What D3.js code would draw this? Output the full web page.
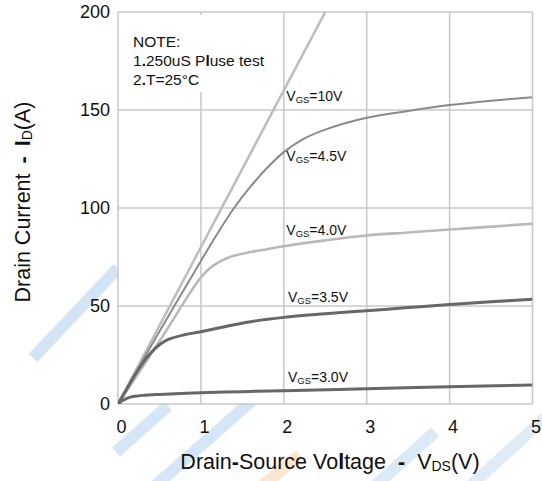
<!DOCTYPE html>
<html><head><meta charset="utf-8">
<script src="https://cdn.jsdelivr.net/npm/d3@7"></script>
<style>body{margin:0;background:#fff}svg{display:block}text{font-family:"Liberation Sans",Arial,sans-serif}</style>
</head><body>
<svg id="c" width="542" height="481"></svg>
<script>
const xTicks = [0,1,2,3,4,5];
const yTicks = [0,50,100,150,200];
const seriesNames = ["10V","4.5V","4.0V","3.5V","3.0V"];
const v10x = [0,2.5];
const v10y = [0,200];
const v45x = [0,0.5,1.0,1.2,1.4,1.6,1.8,2.0,2.25,2.5,3.0,3.5,4.0,4.5,5.0];
const v45y = [0,37,73,87,100,111,120.5,128.5,135.5,140,146,149.5,152.5,154.7,156.5];
const v40x = [0,0.5,0.98,1.1,1.2,1.35,1.6,1.8,2.0,2.5,3.0,3.5,4.0,4.5,5.0];
const v40y = [0,32,63.5,69,72,75,77.5,79,80.5,83.5,86,87.5,89,90.5,92];
const v35x = [0,0.1,0.2,0.3,0.4,0.5,0.6,0.8,1.0,1.3,1.6,2.0,2.5,3.0,3.5,4.0,4.5,5.0];
const v35y = [0,7.2,14.5,21,26.3,30.2,32.8,35.3,36.9,39.5,42,44.2,46,47.6,49.2,50.8,52.2,53.4];
const v30x = [0,0.05,0.1,0.15,0.2,0.3,0.5,1.0,1.5,2.0,3.0,4.0,5.0];
const v30y = [0,1.6,2.8,3.5,3.9,4.4,4.9,5.8,6.3,6.8,7.8,8.8,9.7];
const labels = [
  {name:"10V", v:2.03, i:154.6},
  {name:"4.5V", v:2.03, i:124.2},
  {name:"4.0V", v:2.03, i:86.2},
  {name:"3.5V", v:2.05, i:52.2},
  {name:"3.0V", v:2.05, i:11.4}
];

const svg = d3.select("#c");
const x = d3.scaleLinear().domain([0,5]).range([118,532.5]);
const y = d3.scaleLinear().domain([0,200]).range([404,12]);

// watermark
const wm = svg.append("g").attr("stroke-linecap","butt").attr("fill","none");
[[33,358,118,268,"#d3e5f5"],[116,452,168,406,"#d5e7f6"],[155,486,255,398,"#d5e7f6"],[375,486,435,432,"#dbeaf7"],[470,486,545,418,"#dfecf8"]].forEach(d=>{
  wm.append("line").attr("x1",d[0]).attr("y1",d[1]).attr("x2",d[2]).attr("y2",d[3]).attr("stroke",d[4]).attr("stroke-width",12);
});
wm.append("line").attr("x1",262).attr("y1",486).attr("x2",300).attr("y2",455).attr("stroke","#fce6cf").attr("stroke-width",12);

// plot background
svg.append("rect").attr("x",x(0)).attr("y",y(200)).attr("width",x(5)-x(0)).attr("height",y(0)-y(200)).attr("fill","#fff").attr("opacity",0.9);

// grid
const g = svg.append("g").attr("stroke","#c8c8c8").attr("stroke-width",1.5);
xTicks.forEach(t=>g.append("line").attr("x1",x(t)).attr("x2",x(t)).attr("y1",y(0)).attr("y2",y(200)));
yTicks.forEach(t=>g.append("line").attr("x1",x(0)).attr("x2",x(5)).attr("y1",y(t)).attr("y2",y(t)));

// note box
svg.append("rect").attr("x",125).attr("y",15).attr("width",142).attr("height",77).attr("fill","#fff");
const note = svg.append("g").attr("font-size",15.5).attr("fill","#111");
note.append("text").attr("x",133).attr("y",47).text("NOTE:");
const n1 = note.append("text").attr("x",133).attr("y",66);
n1.append("tspan").text("1");n1.append("tspan").attr("font-weight","bold").text(".");
n1.append("tspan").text("250uS P");n1.append("tspan").attr("font-weight","bold").text("l");n1.append("tspan").text("use test");
const n2 = note.append("text").attr("x",133).attr("y",85);
n2.append("tspan").text("2");n2.append("tspan").attr("font-weight","bold").text(".");n2.append("tspan").text("T=25°C");

// curves
const line = d3.line().x(d=>x(d[0])).y(d=>y(d[1])).curve(d3.curveCatmullRom.alpha(0.5));
svg.append("clipPath").attr("id","pc").append("rect").attr("x",x(0)).attr("y",y(200)).attr("width",x(5)-x(0)).attr("height",y(0)-y(200));
const curves = [
  [v10x,v10y,"#bdbdbd",2.5],
  [v40x,v40y,"#b9b9b9",2.6],
  [v45x,v45y,"#8a8a8a",2],
  [v35x,v35y,"#676767",3],
  [v30x,v30y,"#676767",3]
];
const cg = svg.append("g").attr("clip-path","url(#pc)").attr("fill","none");
curves.forEach(c=>{
  cg.append("path").attr("d",line(c[0].map((v,i)=>[v,c[1][i]]))).attr("stroke",c[2]).attr("stroke-width",c[3]).attr("stroke-linejoin","round");
});

// labels
labels.forEach(l=>{
  const t = svg.append("text").attr("x",x(l.v)).attr("y",y(l.i)).attr("font-size",14).attr("fill","#111");
  t.append("tspan").text("V");
  t.append("tspan").attr("font-size",9.5).attr("dy",2).text("GS");
  t.append("tspan").attr("dy",-2).text("="+l.name);
});

// axes
const xa = svg.append("g").attr("transform",`translate(0,${y(0)})`).call(d3.axisBottom(x).tickValues(xTicks).tickSize(0).tickPadding(16).tickFormat(d3.format("d")));
xa.select(".domain").remove();
xa.selectAll("text").attr("font-size",18).attr("fill","#111").attr("font-family","Liberation Sans, Arial, sans-serif").attr("dx",3);
const ya = svg.append("g").attr("transform",`translate(${x(0)},0)`).call(d3.axisLeft(y).tickValues(yTicks).tickSize(0).tickPadding(8).tickFormat(d3.format("d")));
ya.select(".domain").remove();
ya.selectAll("text").attr("font-size",18).attr("fill","#111").attr("font-family","Liberation Sans, Arial, sans-serif");

// axis titles
const xt = svg.append("text").attr("x",330).attr("y",469).attr("text-anchor","middle").attr("font-size",21.5).attr("fill","#111");
xt.append("tspan").text("Drain");xt.append("tspan").attr("font-weight","bold").text("-");xt.append("tspan").text("Source Vo");
xt.append("tspan").attr("font-weight","bold").text("l");xt.append("tspan").text("tage");
xt.append("tspan").attr("font-weight","bold").attr("dx",12).text("-");
xt.append("tspan").attr("dx",12).text("V");xt.append("tspan").attr("font-size",14).attr("dy",2).text("DS");xt.append("tspan").attr("dy",-2).text("(V)");

const yt = svg.append("text").attr("transform","translate(30,202) rotate(-90)").attr("text-anchor","middle").attr("font-size",21.5).attr("fill","#111");
yt.append("tspan").text("Drain Current");
yt.append("tspan").attr("font-weight","bold").attr("dx",10).text("-");
yt.append("tspan").attr("font-weight","bold").attr("dx",10).text("I");
yt.append("tspan").attr("font-size",14).attr("dy",2).text("D");
yt.append("tspan").attr("dy",-2).text("(A)");
</script>
</body></html>
